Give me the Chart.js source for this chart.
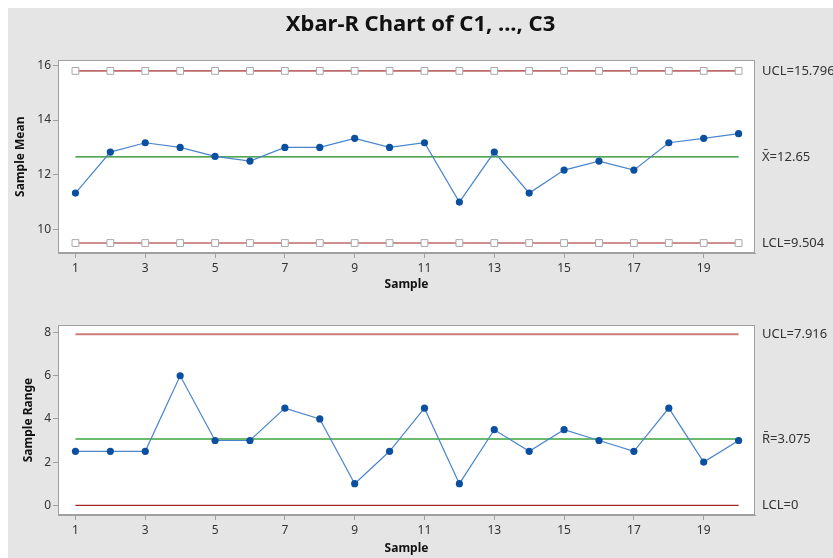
<!DOCTYPE html>
<html>
<head>
<meta charset="utf-8">
<script src="https://cdn.jsdelivr.net/npm/chart.js@4"></script>
<style>
  html, body { margin: 0; padding: 0; background: #ffffff; }
  #frame { position: absolute; left: 8px; top: 8px; width: 825px; height: 550px; background: #e5e5e5; overflow: hidden; }
  #c1 { position: absolute; left: 0; top: 0; }
  #c2 { position: absolute; left: 0; top: 292px; }
</style>
</head>
<body>
<div id="frame">
  <canvas id="c1" width="825" height="292"></canvas>
  <canvas id="c2" width="825" height="258"></canvas>
</div>
<script>
// Subgroup numbers and their statistics
const samples = [1, 2, 3, 4, 5, 6, 7, 8, 9, 10, 11, 12, 13, 14, 15, 16, 17, 18, 19, 20];
const sampleMeans = [11.33, 12.83, 13.17, 13.0, 12.67, 12.5, 13.0, 13.0, 13.33, 13.0,
                     13.17, 11.0, 12.83, 11.33, 12.17, 12.5, 12.17, 13.17, 13.33, 13.5];
const sampleRanges = [2.5, 2.5, 2.5, 6, 3, 3, 4.5, 4, 1, 2.5,
                      4.5, 1, 3.5, 2.5, 3.5, 3, 2.5, 4.5, 2, 3];

// Control limits
const meanLimits = [9.504, 12.65, 15.796];      // LCL, centre, UCL
const meanLimitLabels = ['LCL=9.504', 'X\u0304=12.65', 'UCL=15.796'];
const rangeLimits = [0, 3.075, 7.916];
const rangeLimitLabels = ['LCL=0', 'R\u0304=3.075', 'UCL=7.916'];

// Tick labels
const sampleTicks = [1, 3, 5, 7, 9, 11, 13, 15, 17, 19];
const meanTicks = [10, 12, 14, 16];
const rangeTicks = [0, 2, 4, 6, 8];

const FONT = "'Noto Sans', 'DejaVu Sans', sans-serif";
const AXIS_GREY = '#a0a0a0';
const TEXT = '#333333';

const plotFrame = {
  id: 'plotFrame',
  beforeDraw(chart) {
    const { ctx, chartArea: a } = chart;
    ctx.save();
    ctx.fillStyle = '#ffffff';
    ctx.fillRect(a.left, a.top, a.right - a.left, a.bottom - a.top);
    ctx.restore();
  },
  afterDraw(chart) {
    const { ctx, chartArea: a } = chart;
    ctx.save();
    ctx.strokeStyle = AXIS_GREY;
    ctx.lineWidth = 1;
    ctx.strokeRect(Math.round(a.left) + 0.5, Math.round(a.top) + 0.5,
                   Math.round(a.right - a.left) - 1, Math.round(a.bottom - a.top) - 1);
    ctx.restore();
  }
};

const pts = (ys) => ys.map((v, i) => ({ x: samples[i], y: v }));
const flat = (v) => samples.map(s => ({ x: s, y: v }));

function xScale(height, titlePad) {
  return {
    type: 'linear', min: 0.5, max: 20.47,
    afterBuildTicks: s => { s.ticks = sampleTicks.map(v => ({ value: v })); },
    afterFit: s => { s.height = height; },
    grid: { drawOnChartArea: false, drawTicks: true, tickLength: 5, color: AXIS_GREY },
    border: { color: AXIS_GREY },
    ticks: { color: TEXT, font: { family: FONT, size: 12 }, padding: 3, maxRotation: 0, autoSkip: false },
    title: { display: true, text: 'Sample', color: '#111', font: { family: FONT, size: 12, weight: 'bold' },
             padding: { top: 0, bottom: titlePad } }
  };
}

function yScale(min, max, ticks, title, titlePad) {
  return {
    position: 'left', min, max,
    afterBuildTicks: s => { s.ticks = ticks.map(v => ({ value: v })); },
    afterFit: s => { s.width = 50; },
    grid: { drawOnChartArea: false, drawTicks: true, tickLength: 5, color: AXIS_GREY },
    border: { color: AXIS_GREY },
    ticks: { color: TEXT, font: { family: FONT, size: 12 }, padding: 2, autoSkip: false },
    title: { display: true, text: title, color: '#111', font: { family: FONT, size: 12, weight: 'bold' },
             padding: { top: titlePad, bottom: 0 } }
  };
}

function limitScale(min, max, values, labels) {
  return {
    position: 'right', min, max,
    afterBuildTicks: s => { s.ticks = values.map(v => ({ value: v })); },
    afterFit: s => { s.width = 78; },
    grid: { display: false, drawTicks: false },
    border: { display: false },
    ticks: { color: TEXT, font: { family: FONT, size: 13 }, padding: 7, autoSkip: false,
             callback: (v, i) => labels[i] }
  };
}

// Xbar chart
new Chart(document.getElementById('c1'), {
  type: 'line',
  data: {
    datasets: [
      { data: pts(sampleMeans), borderColor: '#4a85cc', borderWidth: 1.2,
        pointRadius: 3.6, pointBackgroundColor: '#0a4fa0', pointBorderColor: '#0a4fa0', pointBorderWidth: 0 },
      { data: flat(meanLimits[1]), borderColor: '#1a8a1a', borderWidth: 1.3, pointRadius: 0 },
      { data: flat(meanLimits[2]), borderColor: '#be6a6a', borderWidth: 1.6,
        pointStyle: 'rect', pointRadius: 4.8, pointBackgroundColor: '#ffffff', pointBorderColor: '#a8a8a8', pointBorderWidth: 1 },
      { data: flat(meanLimits[0]), borderColor: '#be6a6a', borderWidth: 1.6,
        pointStyle: 'rect', pointRadius: 4.8, pointBackgroundColor: '#ffffff', pointBorderColor: '#a8a8a8', pointBorderWidth: 1 }
    ]
  },
  options: {
    responsive: false, animation: false, events: [],
    layout: { padding: { left: 0, right: 0, top: 0, bottom: 0 } },
    plugins: {
      legend: { display: false }, tooltip: { enabled: false },
      title: { display: true, text: 'Xbar-R Chart of C1, ..., C3', color: '#111',
               font: { family: FONT, size: 22, weight: 'bold' }, padding: { top: 4, bottom: 22 } }
    },
    scales: {
      x: xScale(47, 8),
      y: yScale(9.14, 16.18, meanTicks, 'Sample Mean', 5),
      y2: limitScale(9.14, 16.18, meanLimits, meanLimitLabels)
    }
  },
  plugins: [plotFrame]
});

// Range chart
new Chart(document.getElementById('c2'), {
  type: 'line',
  data: {
    datasets: [
      { data: pts(sampleRanges), borderColor: '#4a85cc', borderWidth: 1.2,
        pointRadius: 3.6, pointBackgroundColor: '#0a4fa0', pointBorderColor: '#0a4fa0', pointBorderWidth: 0 },
      { data: flat(rangeLimits[1]), borderColor: '#6cbb6c', borderWidth: 2, pointRadius: 0 },
      { data: flat(rangeLimits[2]), borderColor: '#cc7c7c', borderWidth: 2, pointRadius: 0 },
      { data: flat(rangeLimits[0]), borderColor: '#a42828', borderWidth: 1.3, pointRadius: 0 }
    ]
  },
  options: {
    responsive: false, animation: false, events: [],
    layout: { padding: { left: 0, right: 0, top: 25, bottom: 0 } },
    plugins: { legend: { display: false }, tooltip: { enabled: false }, title: { display: false } },
    scales: {
      x: xScale(43, 2),
      y: yScale(-0.45, 8.35, rangeTicks, 'Sample Range', 13),
      y2: limitScale(-0.45, 8.35, rangeLimits, rangeLimitLabels)
    }
  },
  plugins: [plotFrame]
});
</script>
</body>
</html>
